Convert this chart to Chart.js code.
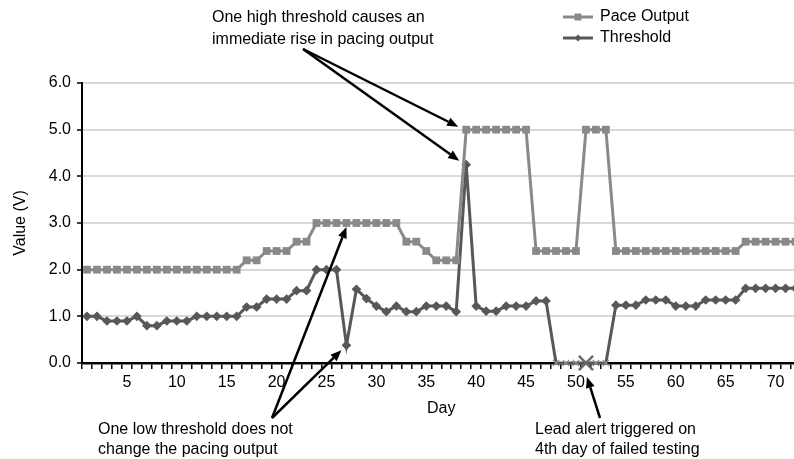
<!DOCTYPE html>
<html>
<head>
<meta charset="utf-8">
<script src="https://cdn.jsdelivr.net/npm/chart.js@4.4.1/dist/chart.umd.min.js"></script>
<style>
html, body { margin: 0; padding: 0; background: #fff; overflow: hidden; }
#wrap { width: 794px; height: 459px; overflow: hidden; }
</style>
</head>
<body>
<div id="wrap"><canvas id="chart" width="806" height="459"></canvas></div>
<script>
// days on the x axis
const days = [1, 2, 3, 4, 5, 6, 7, 8, 9, 10, 11, 12, 13, 14, 15, 16, 17, 18, 19, 20,
  21, 22, 23, 24, 25, 26, 27, 28, 29, 30, 31, 32, 33, 34, 35, 36, 37, 38, 39, 40,
  41, 42, 43, 44, 45, 46, 47, 48, 49, 50, 51, 52, 53, 54, 55, 56, 57, 58, 59, 60,
  61, 62, 63, 64, 65, 66, 67, 68, 69, 70, 71, 72];

// Pace Output (V)
const paceOutput = [2.0, 2.0, 2.0, 2.0, 2.0, 2.0, 2.0, 2.0, 2.0, 2.0, 2.0, 2.0, 2.0, 2.0, 2.0, 2.0,
  2.2, 2.2, 2.4, 2.4, 2.4, 2.6, 2.6,
  3.0, 3.0, 3.0, 3.0, 3.0, 3.0, 3.0, 3.0, 3.0,
  2.6, 2.6, 2.4, 2.2, 2.2, 2.2,
  5.0, 5.0, 5.0, 5.0, 5.0, 5.0, 5.0,
  2.4, 2.4, 2.4, 2.4, 2.4,
  5.0, 5.0, 5.0,
  2.4, 2.4, 2.4, 2.4, 2.4, 2.4, 2.4, 2.4, 2.4, 2.4, 2.4, 2.4, 2.4,
  2.6, 2.6, 2.6, 2.6, 2.6, 2.6];

// Threshold (V)
const threshold = [1.0, 1.0, 0.9, 0.9, 0.9, 1.0, 0.8, 0.8, 0.9, 0.9, 0.9, 1.0, 1.0, 1.0, 1.0, 1.0,
  1.2, 1.2, 1.37, 1.37, 1.37, 1.55, 1.55, 2.0, 2.0, 2.0, 0.38, 1.58, 1.38, 1.22,
  1.1, 1.22, 1.1, 1.1, 1.22, 1.22, 1.22, 1.1, 4.25, 1.22,
  1.11, 1.11, 1.22, 1.22, 1.22, 1.33, 1.33, 0, 0, 0,
  0, 0, 0, 1.24, 1.24, 1.24, 1.35, 1.35, 1.35, 1.22,
  1.22, 1.22, 1.35, 1.35, 1.35, 1.35, 1.6, 1.6, 1.6, 1.6, 1.6, 1.6];

const highDay = 39;   // one high threshold
const lowDay = 27;    // one low threshold
const alertDay = 51;  // lead alert

const paceColor = '#898989';
const thrColor = '#585858';
const FONT = '"Liberation Sans", Arial, sans-serif';

Chart.defaults.font.family = FONT;
Chart.defaults.font.size = 16;
Chart.defaults.color = '#000';

function arrow(ctx, x1, y1, x2, y2) {
  const a = Math.atan2(y2 - y1, x2 - x1);
  const hl = 11, hw = 4.5;
  const bx = x2 - hl * Math.cos(a), by = y2 - hl * Math.sin(a);
  ctx.beginPath();
  ctx.moveTo(x1, y1);
  ctx.lineTo(bx, by);
  ctx.stroke();
  ctx.beginPath();
  ctx.moveTo(x2, y2);
  ctx.lineTo(bx + hw * Math.sin(a), by - hw * Math.cos(a));
  ctx.lineTo(bx - hw * Math.sin(a), by + hw * Math.cos(a));
  ctx.closePath();
  ctx.fill();
}

const notes = {
  id: 'notes',
  afterDraw(chart) {
    const { ctx, scales: { x, y } } = chart;
    const px = d => x.getPixelForValue(days.indexOf(d));
    ctx.save();
    ctx.fillStyle = '#000';
    ctx.strokeStyle = '#000';
    ctx.lineWidth = 2.5;
    ctx.font = '16px ' + FONT;
    ctx.textBaseline = 'middle';
    ctx.textAlign = 'left';

    ctx.fillText('One high threshold causes an', 212, 18);
    ctx.fillText('immediate rise in pacing output', 212, 40);
    const hx = px(highDay);
    arrow(ctx, 303, 49, hx - 8, y.getPixelForValue(paceOutput[highDay - 1]) - 3);
    arrow(ctx, 303, 49, hx - 7, y.getPixelForValue(threshold[highDay - 1]) - 4);

    ctx.fillText('One low threshold does not', 98, 430);
    ctx.fillText('change the pacing output', 98, 450);
    const lx = px(lowDay);
    arrow(ctx, 272, 418, lx, y.getPixelForValue(paceOutput[lowDay - 1]) + 4);
    arrow(ctx, 272, 418, lx - 5, y.getPixelForValue(threshold[lowDay - 1]) + 5);

    ctx.fillText('Lead alert triggered on', 535, 430);
    ctx.fillText('4th day of failed testing', 535, 450);
    arrow(ctx, 600, 418, px(alertDay) + 1, y.getPixelForValue(0) + 14);

    // legend
    ctx.lineWidth = 3;
    ctx.strokeStyle = paceColor;
    ctx.beginPath(); ctx.moveTo(563, 17); ctx.lineTo(593, 17); ctx.stroke();
    ctx.fillStyle = paceColor;
    ctx.fillRect(574.5, 13.5, 7, 7);
    ctx.strokeStyle = thrColor;
    ctx.beginPath(); ctx.moveTo(563, 38); ctx.lineTo(593, 38); ctx.stroke();
    ctx.fillStyle = thrColor;
    ctx.beginPath();
    ctx.moveTo(578, 34.5); ctx.lineTo(581.5, 38); ctx.lineTo(578, 41.5); ctx.lineTo(574.5, 38);
    ctx.closePath(); ctx.fill();
    ctx.fillStyle = '#000';
    ctx.fillText('Pace Output', 600, 17);
    ctx.fillText('Threshold', 600, 38);
    ctx.restore();
  }
};

new Chart(document.getElementById('chart'), {
  type: 'line',
  data: {
    labels: days,
    datasets: [{
      label: 'Pace Output',
      data: paceOutput,
      borderColor: paceColor,
      backgroundColor: paceColor,
      borderWidth: 3,
      pointStyle: 'rect',
      pointRadius: 5.5,
      pointBorderWidth: 0,
      tension: 0,
      clip: false
    }, {
      label: 'Threshold',
      data: threshold,
      borderColor: thrColor,
      backgroundColor: thrColor,
      borderWidth: 3,
      pointStyle: c => threshold[c.dataIndex] === 0 ? 'crossRot' : 'rectRot',
      pointRadius: c => days[c.dataIndex] === alertDay ? 10 : (threshold[c.dataIndex] === 0 ? 4.5 : 4),
      pointBorderColor: c => days[c.dataIndex] === alertDay ? '#6a6a6a' : (threshold[c.dataIndex] === 0 ? '#8f8f8f' : thrColor),
      pointBorderWidth: c => days[c.dataIndex] === alertDay ? 2.5 : 1.2,
      tension: 0,
      clip: false
    }]
  },
  options: {
    responsive: false,
    animation: false,
    layout: { padding: { top: 83, left: 0, right: 4, bottom: 41 } },
    plugins: { legend: { display: false }, tooltip: { enabled: false } },
    scales: {
      x: {
        type: 'category',
        offset: true,
        afterFit: s => { s.height = 55; },
        grid: { display: true, drawOnChartArea: false, offset: true, tickLength: 6, color: '#000', lineWidth: 1.5 },
        border: { display: true, color: '#000', width: 2.5 },
        ticks: {
          autoSkip: false, maxRotation: 0, padding: 4,
          callback: (v, i) => days[i] % 5 === 0 ? String(days[i]) : ''
        },
        title: { display: true, text: 'Day', padding: { top: 4, bottom: 0 } }
      },
      y: {
        min: 0, max: 6,
        afterFit: s => { s.width = 82; },
        ticks: { stepSize: 1, padding: 6, callback: v => v.toFixed(1) },
        grid: {
          color: c => c.tick && c.tick.value === 0 ? 'rgba(0,0,0,0)' : '#d9d9d9',
          lineWidth: 2, tickColor: '#000', tickLength: 5, tickWidth: 1.5
        },
        border: { display: true, color: '#000', width: 2 },
        title: { display: true, text: 'Value (V)', padding: { top: 11, bottom: 0 } }
      }
    }
  },
  plugins: [notes]
});
</script>
</body>
</html>
